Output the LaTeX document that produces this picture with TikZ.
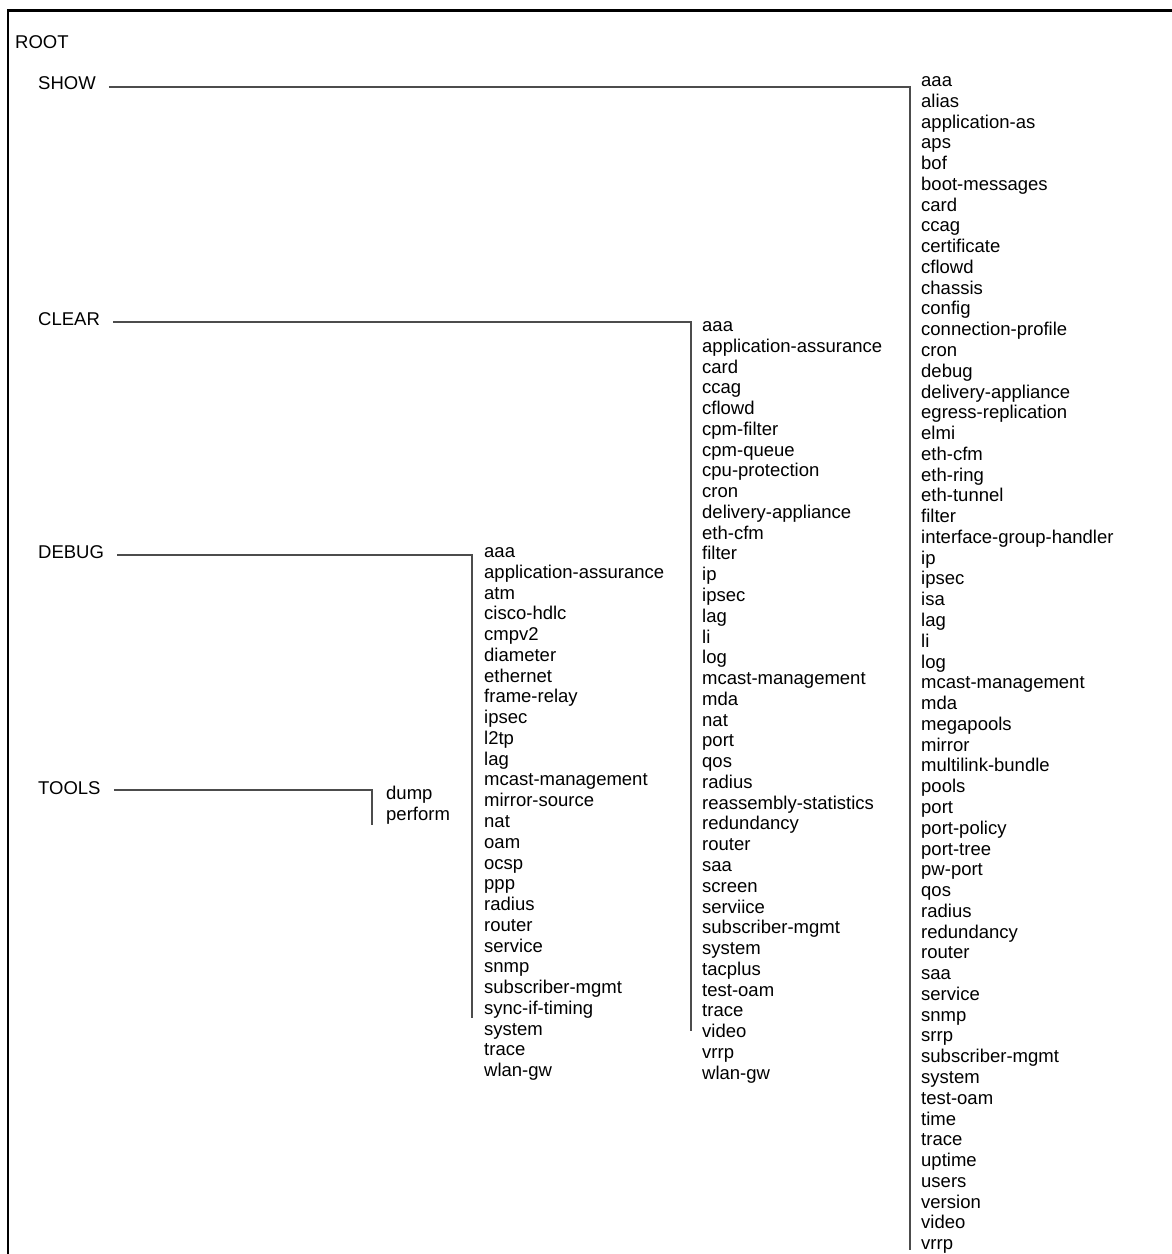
\documentclass[tikz,border=0pt]{standalone}
\usepackage{fontspec}
\setmainfont{Liberation Sans}
\begin{document}
\begin{tikzpicture}[x=1pt, y=-1pt,
    cmdtext/.style={anchor=base west, inner sep=0pt, font=\fontsize{18.5}{20}\selectfont},
    branch/.style={draw=black!70, line width=1.4pt, shorten <=13pt}]
    \useasboundingbox (0,0) rectangle (1171,1254);

    % Frame (right and bottom sides are cut off)
    \draw[line width=2.6pt] (8,1262) -- (8,10.5) -- (1180,10.5);

    % Top level
    \node[cmdtext] (root) at (15,48.5) {ROOT};
    \node[cmdtext] (show) at (38,89.5) {SHOW};
    \node[cmdtext] (clear) at (38,325.5) {CLEAR};
    \node[cmdtext] (debug) at (38,558.5) {DEBUG};
    \node[cmdtext] (tools) at (38,794.5) {TOOLS};

    % SHOW subcommands
    \foreach \cmd [count=\i from 0] in {aaa, alias, application-as, aps, bof,
        boot-messages, card, ccag, certificate, cflowd, chassis, config,
        connection-profile, cron, debug, delivery-appliance, egress-replication,
        elmi, eth-cfm, eth-ring, eth-tunnel, filter, interface-group-handler,
        ip, ipsec, isa, lag, li, log, mcast-management, mda, megapools, mirror,
        multilink-bundle, pools, port, port-policy, port-tree, pw-port, qos,
        radius, redundancy, router, saa, service, snmp, srrp, subscriber-mgmt,
        system, test-oam, time, trace, uptime, users, version, video, vrrp}
        \node[cmdtext] (show-\i) at (921,{86.5+\i*20.77}) {\cmd};

    % CLEAR subcommands
    \foreach \cmd [count=\i from 0] in {aaa, application-assurance, card, ccag,
        cflowd, cpm-filter, cpm-queue, cpu-protection, cron, delivery-appliance,
        eth-cfm, filter, ip, ipsec, lag, li, log, mcast-management, mda, nat,
        port, qos, radius, reassembly-statistics, redundancy, router, saa,
        screen, serviice, subscriber-mgmt, system, tacplus, test-oam, trace,
        video, vrrp, wlan-gw}
        \node[cmdtext] (clear-\i) at (702,{331.5+\i*20.77}) {\cmd};

    % DEBUG subcommands
    \foreach \cmd [count=\i from 0] in {aaa, application-assurance, atm,
        cisco-hdlc, cmpv2, diameter, ethernet, frame-relay, ipsec, l2tp, lag,
        mcast-management, mirror-source, nat, oam, ocsp, ppp, radius, router,
        service, snmp, subscriber-mgmt, sync-if-timing, system, trace, wlan-gw}
        \node[cmdtext] (debug-\i) at (484,{557.5+\i*20.77}) {\cmd};

    % TOOLS subcommands
    \node[cmdtext] (tools-0) at (386,799) {dump};
    \node[cmdtext] (tools-1) at (386,820) {perform};

    % Branches
    \coordinate (show-top) at (910,87);
    \coordinate (show-bot) at (910,1250);
    \coordinate (clear-top) at (691,322);
    \coordinate (clear-bot) at (691,1031);
    \coordinate (debug-top) at (472,555);
    \coordinate (debug-bot) at (472,1018);
    \coordinate (tools-top) at (372,790);
    \coordinate (tools-bot) at (372,825);
    \draw[branch] (show.east |- show-top) -- (show-top) -- (show-bot);
    \draw[branch] (clear.east |- clear-top) -- (clear-top) -- (clear-bot);
    \draw[branch] (debug.east |- debug-top) -- (debug-top) -- (debug-bot);
    \draw[branch] (tools.east |- tools-top) -- (tools-top) -- (tools-bot);
\end{tikzpicture}
\end{document}
